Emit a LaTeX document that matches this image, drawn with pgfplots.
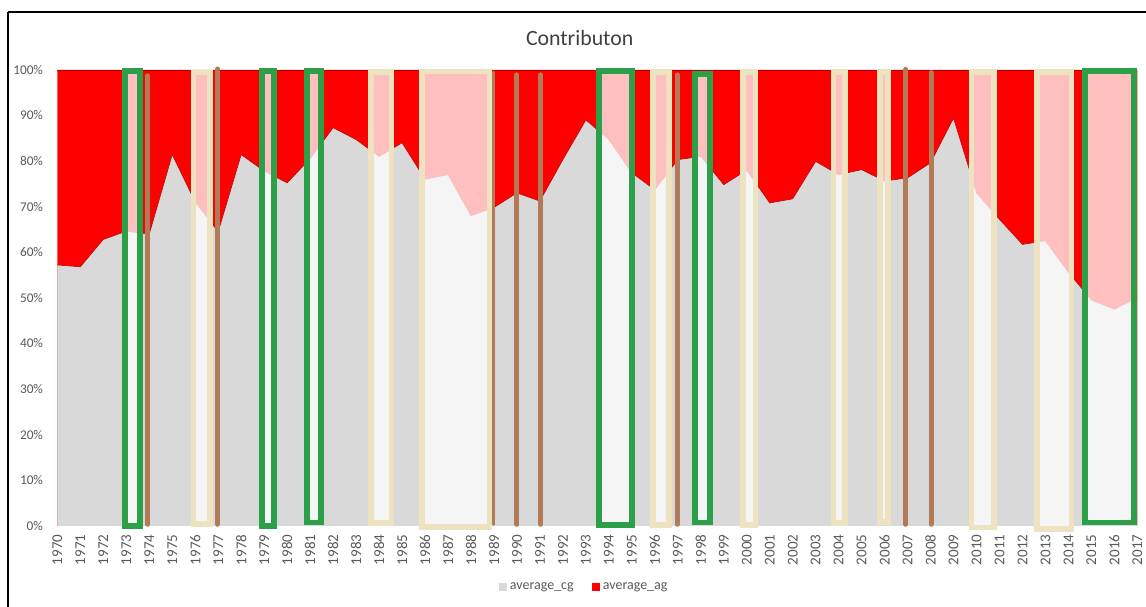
\documentclass[border=0pt]{standalone}
\usepackage{fontspec}
\setmainfont{Carlito}
\usepackage{pgfplots}
\usepackage{pgfplotstable}
\pgfplotsset{compat=1.18}
\definecolor{cgGray}{RGB}{217,217,217}
\definecolor{agRed}{RGB}{255,0,0}
\definecolor{hlGreen}{RGB}{44,160,72}
\definecolor{hlBeige}{RGB}{238,227,192}
\definecolor{hlBrown}{RGB}{178,122,86}
\definecolor{txtGray}{RGB}{89,89,89}
\definecolor{titleGray}{RGB}{64,64,64}

% cg = share of average_cg, ag = share of average_ag, tot = cg + ag
\pgfplotstableread{
year cg ag tot
1970 57.2 42.8 100
1971 56.8 43.2 100
1972 62.8 37.2 100
1973 64.6 35.4 100
1974 64.0 36.0 100
1975 81.4 18.6 100
1976 71.0 29.0 100
1977 64.5 35.5 100
1978 81.4 18.6 100
1979 77.8 22.2 100
1980 75.2 24.8 100
1981 80.5 19.5 100
1982 87.3 12.7 100
1983 84.7 15.3 100
1984 81.0 19.0 100
1985 84.0 16.0 100
1986 76.0 24.0 100
1987 77.0 23.0 100
1988 68.0 32.0 100
1989 69.8 30.2 100
1990 73.0 27.0 100
1991 71.2 28.8 100
1992 80.3 19.7 100
1993 89.0 11.0 100
1994 84.7 15.3 100
1995 77.4 22.6 100
1996 73.7 26.3 100
1997 80.3 19.7 100
1998 81.0 19.0 100
1999 74.8 25.2 100
2000 78.0 22.0 100
2001 70.8 29.2 100
2002 71.7 28.3 100
2003 79.9 20.1 100
2004 77.0 23.0 100
2005 78.1 21.9 100
2006 75.6 24.4 100
2007 76.3 23.7 100
2008 79.6 20.4 100
2009 89.4 10.6 100
2010 73.0 27.0 100
2011 67.2 32.8 100
2012 61.7 38.3 100
2013 62.5 37.5 100
2014 55.6 44.4 100
2015 49.5 50.5 100
2016 47.5 52.5 100
2017 50.0 50.0 100
}\contrib

% highlight box: style, x1, x2, y1, y2
\newcommand\hlrect[5]{%
  \addplot[#1,fill=white,fill opacity=0.75,line join=miter,forget plot]
    coordinates {(#2,#4) (#3,#4) (#3,#5) (#2,#5) (#2,#4) (#3,#4)};}
% brown marker line: x, top, width
\newcommand\brline[3]{%
  \addplot[hlBrown,line width=#3,line cap=round,forget plot]
    coordinates {(#1,0.33) (#1,#2)};}

\begin{document}
\begin{tikzpicture}
\path[use as bounding box] (0,0) rectangle (861.5pt,456pt);
\draw[black,line width=0.8pt] (6pt,456pt-9pt) -- (861.5pt,456pt-9pt);
\draw[black,line width=0.8pt] (6pt,456pt-9pt) -- (6pt,0pt);
\node[font=\fontsize{16.4}{19}\selectfont,text=titleGray] at (435.75pt,427.5pt) {Contributon};
\begin{axis}[
  at={(43.125pt,60.75pt)}, anchor=south west,
  scale only axis, width=811.875pt, height=342.75pt,
  xmin=1970, xmax=2017, ymin=0, ymax=100,
  clip=false,
  axis line style={draw=none},
  major tick length=0pt,
  /pgf/number format/assume math mode=true,
  /pgf/number format/1000 sep={},
  xtick={1970,1971,...,2017},
  ytick={0,10,...,100},
  yticklabels={0\%,10\%,20\%,30\%,40\%,50\%,60\%,70\%,80\%,90\%,100\%},
  yticklabel style={font=\fontsize{10}{12}\selectfont,text=txtGray,anchor=east,inner sep=0pt,xshift=-10.6pt},
  xticklabel style={font=\fontsize{11.3}{13}\selectfont,text=txtGray,yshift=-6.5pt,rotate=90,anchor=east,inner sep=0pt},
  legend style={at={(0.409,-0.1335)},anchor=west,draw=none,fill=none,
    font=\fontsize{10.5}{12}\selectfont,text=txtGray,legend columns=-1,
    /tikz/every even column/.append style={column sep=12pt},inner sep=0pt},
  legend image code/.code={\fill[#1,draw=none] (0pt,-3pt) rectangle (6pt,3pt);},
]
% average_ag occupies the band from cg up to tot (=cg+ag); drawn as tot-area under the cg-area
\addplot[fill=agRed,draw=none,forget plot] table[x=year,y=tot] {\contrib} \closedcycle;
\addplot[fill=cgGray,draw=none,forget plot] table[x=year,y=cg] {\contrib} \closedcycle;
\addplot[draw=agRed!70!black,line width=0.4pt,forget plot] table[x=year,y=cg] {\contrib};
\addplot[draw=agRed!70!black,line width=0.4pt,forget plot] table[x=year,y=tot] {\contrib};

\addlegendimage{fill=cgGray}
\addlegendentry{average\_cg}
\addlegendimage{fill=agRed}
\addlegendentry{average\_ag}

\brline{1988.98}{99.5}{2.5pt}
\hlrect{hlGreen,line width=4.5pt}{1972.94}{1973.60}{-0.15}{99.7}
\hlrect{hlBeige,line width=4.25pt}{1975.92}{1976.63}{0.46}{99.4}
\hlrect{hlGreen,line width=4.5pt}{1978.89}{1979.43}{0}{99.7}
\hlrect{hlGreen,line width=4.5pt}{1980.88}{1981.48}{0.72}{99.7}
\hlrect{hlBeige,line width=4.25pt}{1983.66}{1984.54}{0.65}{99.5}
\hlrect{hlBeige,line width=4.25pt}{1985.86}{1988.80}{-0.2}{99.6}
\hlrect{hlGreen,line width=4.5pt}{1993.58}{1995.02}{0.22}{99.7}
\hlrect{hlBeige,line width=4.25pt}{1995.92}{1996.62}{0.1}{99.5}
\hlrect{hlGreen,line width=4.5pt}{1997.74}{1998.42}{0.72}{99.0}
\hlrect{hlBeige,line width=4.25pt}{1999.83}{2000.38}{0.1}{99.5}
\hlrect{hlBeige,line width=4.25pt}{2003.78}{2004.29}{0.65}{99.5}
\hlrect{hlBeige,line width=4.25pt}{2005.79}{2006.15}{0.8}{99.5}
\hlrect{hlBeige,line width=4.25pt}{2009.78}{2010.76}{-0.4}{99.5}
\hlrect{hlBeige,line width=4.25pt}{2012.64}{2014.13}{-0.7}{99.5}
\hlrect{hlGreen,line width=4.5pt}{2014.74}{2016.87}{0.72}{99.7}
\brline{1973.93}{98.7}{3.75pt}
\brline{1976.97}{100.2}{3.75pt}
\brline{1990.00}{98.9}{3.75pt}
\brline{1991.04}{98.9}{3.75pt}
\brline{1996.98}{98.9}{3.75pt}
\brline{2006.93}{100.1}{3.75pt}
\brline{2008.02}{99.4}{3.75pt}
\end{axis}
\end{tikzpicture}
\end{document}
